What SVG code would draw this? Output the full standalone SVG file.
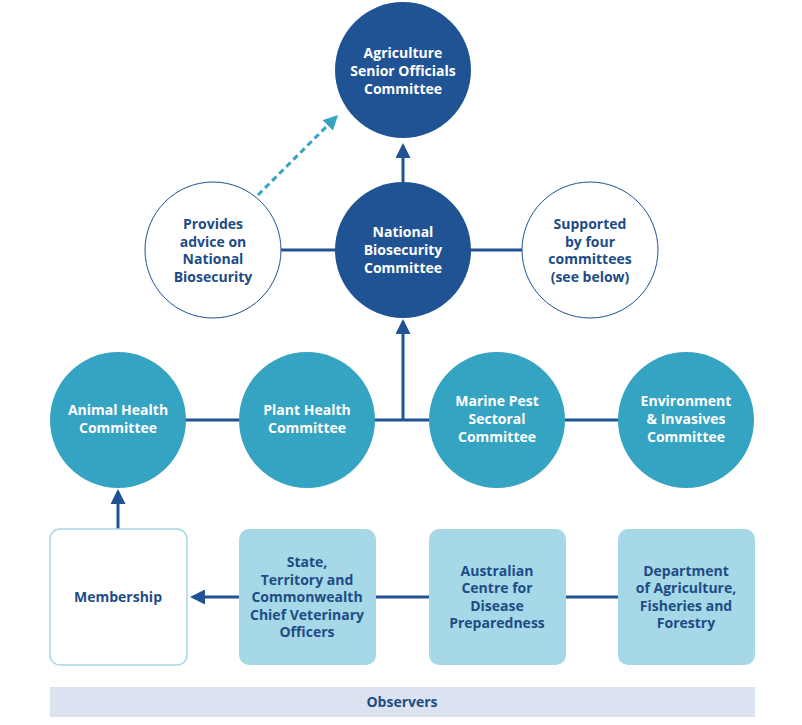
<svg xmlns="http://www.w3.org/2000/svg" width="802" height="725" viewBox="0 0 802 725">
<defs>
<style>
text{font-family:"Open Sans","Noto Sans",sans-serif;font-weight:bold;font-size:14px;text-anchor:middle}
.w{fill:#fff}.d{fill:#1d4c86}
.dark{fill:#1f5394}.teal{fill:#35a3c2}.box{fill:#a6d8e7}
.ln{stroke:#1f5394;stroke-width:3;fill:none}
</style>
<marker id="ah" viewBox="0 0 10 10" refX="8" refY="5" markerWidth="5" markerHeight="5" orient="auto"><path d="M0,0L10,5L0,10Z" fill="#1f5394"/></marker>
<marker id="at" viewBox="0 0 10 10" refX="8" refY="5" markerWidth="5" markerHeight="5" orient="auto"><path d="M0,0L10,5L0,10Z" fill="#35a3c2"/></marker>
</defs>
<rect width="802" height="725" fill="#fff"/>
<g id="connectors">
<line class="ln" x1="280" y1="250" x2="525" y2="250"/>
<line class="ln" x1="403" y1="182" x2="403" y2="146" marker-end="url(#ah)"/>
<line class="ln" x1="150" y1="420" x2="660" y2="420"/>
<line class="ln" x1="403" y1="420" x2="403" y2="322" marker-end="url(#ah)"/>
<line x1="258" y1="195" x2="336" y2="117" stroke="#35a3c2" stroke-width="3" stroke-dasharray="6,4" marker-end="url(#at)"/>
<line class="ln" x1="118" y1="529" x2="118" y2="492" marker-end="url(#ah)"/>
<line class="ln" x1="376" y1="597" x2="429" y2="597"/>
<line class="ln" x1="565" y1="597" x2="618" y2="597"/>
<line class="ln" x1="239" y1="597" x2="193" y2="597" marker-end="url(#ah)"/>
</g>
<g id="asoc"><circle cx="403" cy="70" r="68" class="dark"/><text class="w" x="403" y="58">Agriculture</text><text class="w" x="403" y="76">Senior Officials</text><text class="w" x="403" y="94">Committee</text></g>
<g id="advice"><circle cx="213" cy="250" r="68" fill="#fff" stroke="#1f5394" stroke-width="1"/><text class="d" x="213" y="229">Provides</text><text class="d" x="213" y="247">advice on</text><text class="d" x="213" y="264">National</text><text class="d" x="213" y="282">Biosecurity</text></g>
<g id="nbc"><circle cx="403" cy="250" r="68" class="dark"/><text class="w" x="403" y="237">National</text><text class="w" x="403" y="255">Biosecurity</text><text class="w" x="403" y="273">Committee</text></g>
<g id="supported"><circle cx="590" cy="250" r="68" fill="#fff" stroke="#1f5394" stroke-width="1"/><text class="d" x="590" y="229">Supported</text><text class="d" x="590" y="247">by four</text><text class="d" x="590" y="264">committees</text><text class="d" x="590" y="282">(see below)</text></g>
<g id="ahc"><circle cx="118" cy="420" r="68" class="teal"/><text class="w" x="118" y="415">Animal Health</text><text class="w" x="118" y="433">Committee</text></g>
<g id="phc"><circle cx="307" cy="420" r="68" class="teal"/><text class="w" x="307" y="415">Plant Health</text><text class="w" x="307" y="433">Committee</text></g>
<g id="mpc"><circle cx="497" cy="420" r="68" class="teal"/><text class="w" x="497" y="406">Marine Pest</text><text class="w" x="497" y="424">Sectoral</text><text class="w" x="497" y="442">Committee</text></g>
<g id="eic"><circle cx="686" cy="420" r="68" class="teal"/><text class="w" x="686" y="406">Environment</text><text class="w" x="686" y="424">&amp; Invasives</text><text class="w" x="686" y="442">Committee</text></g>
<g id="membership"><rect x="50" y="529" width="137" height="136" rx="10" fill="#fff" stroke="#a6d8e7" stroke-width="1.5"/><text class="d" x="118" y="602">Membership</text></g>
<g id="cvo"><rect x="239" y="529" width="137" height="136" rx="10" class="box"/><text class="d" x="307" y="567">State,</text><text class="d" x="307" y="585">Territory and</text><text class="d" x="307" y="602">Commonwealth</text><text class="d" x="307" y="620">Chief Veterinary</text><text class="d" x="307" y="637">Officers</text></g>
<g id="acdp"><rect x="429" y="529" width="137" height="136" rx="10" class="box"/><text class="d" x="497" y="576">Australian</text><text class="d" x="497" y="593">Centre for</text><text class="d" x="497" y="611">Disease</text><text class="d" x="497" y="628">Preparedness</text></g>
<g id="daff"><rect x="618" y="529" width="137" height="136" rx="10" class="box"/><text class="d" x="686" y="576">Department</text><text class="d" x="686" y="593">of Agriculture,</text><text class="d" x="686" y="611">Fisheries and</text><text class="d" x="686" y="628">Forestry</text></g>
<g id="observers"><rect x="50" y="687" width="705" height="30" fill="#dce3f0"/><text class="d" x="402" y="707">Observers</text></g>
</svg>
